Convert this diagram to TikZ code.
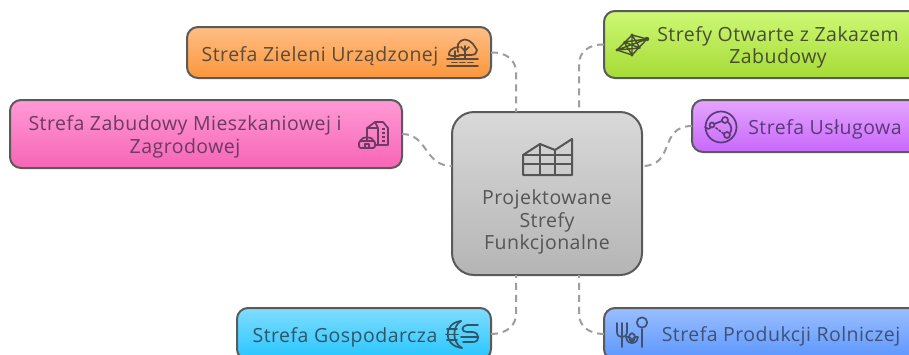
\documentclass[tikz,border=0pt]{standalone}
\usepackage{fontspec}
\setmainfont[LetterSpace=2.4]{Open Sans}
\tikzset{
  zonebox/.style={draw=boxedge,line width=2pt,rounded corners=11pt,inner sep=0pt,outer sep=0pt},
  zonetext/.style={align=center,inner sep=0pt,font=\fontsize{19.5}{22.5}\selectfont},
  link/.style={draw=linkgray,line width=2pt,dash pattern=on 7pt off 5pt},
  icon/.style={line width=1.7pt,line cap=round,line join=round}
}
\definecolor{boxedge}{HTML}{5A5A5A}
\definecolor{linkgray}{HTML}{9E9E9E}
\definecolor{torange}{HTML}{5E4A38}
\definecolor{tpink}{HTML}{6C3A62}
\definecolor{tgreen}{HTML}{474F33}
\definecolor{tpurple}{HTML}{5B3A78}
\definecolor{tcyan}{HTML}{2F5666}
\definecolor{tblue}{HTML}{3F5270}
\definecolor{tgray}{HTML}{555555}
\begin{document}
\begin{tikzpicture}[x=1pt,y=-1pt]
\useasboundingbox (0,0) rectangle (909,354);
\clip (0,0) rectangle (909,354);
\fill[white] (0,0) rectangle (909,354);
% boxes
\node[zonebox,minimum width=190pt,minimum height=163pt,rounded corners=22pt,top color=black!15,bottom color=black!29] (central) at (547,193.5) {};
\node[zonebox,minimum width=304pt,minimum height=51pt,top color={rgb,255:red,255;green,190;blue,133},bottom color={rgb,255:red,251;green,150;blue,60}] (orange) at (339,52.5) {};
\node[zonebox,minimum width=392pt,minimum height=68pt,top color={rgb,255:red,255;green,154;blue,213},bottom color={rgb,255:red,246;green,101;blue,181}] (pink) at (206,134) {};
\node[zonebox,minimum width=330pt,minimum height=67pt,top color={rgb,255:red,205;green,248;blue,117},bottom color={rgb,255:red,166;green,219;blue,53}] (green) at (769,44.5) {};
\node[zonebox,minimum width=240pt,minimum height=52pt,top color={rgb,255:red,229;green,165;blue,255},bottom color={rgb,255:red,199;green,104;blue,250}] (purple) at (812,126) {};
\node[zonebox,minimum width=254pt,minimum height=52pt,top color={rgb,255:red,128;green,221;blue,255},bottom color={rgb,255:red,37;green,197;blue,255}] (cyan) at (364,334) {};
\node[zonebox,minimum width=330pt,minimum height=52pt,top color={rgb,255:red,154;green,190;blue,255},bottom color={rgb,255:red,91;green,149;blue,255}] (blue) at (769,334) {};
% connector ends on the central box
\coordinate (cNa) at (516,112);
\coordinate (cNb) at (579,112);
\coordinate (cW) at (452,166);
\coordinate (cE) at (642,166);
\coordinate (cSa) at (516,275);
\coordinate (cSb) at (579,275);
% connectors
\draw[link] (orange.east) .. controls (506,52) and (516,60) .. (516,72) -- (cNa);
\draw[link] (green.west) .. controls (589,44) and (579,52) .. (579,64) -- (cNb);
\draw[link] (pink.east) .. controls (428,134) and (424,166) .. (cW);
\draw[link] (purple.west) .. controls (658,126) and (676,166) .. (cE);
\draw[link] (cyan.east) .. controls (506,334) and (516,326) .. (516,314) -- (cSa);
\draw[link] (blue.west) .. controls (589,334) and (579,326) .. (579,314) -- (cSb);
% texts
\node[zonetext,text=tgray] (tcentral) at (547,222) {Projektowane\\Strefy\\Funkcjonalne};
\node[zonetext,text=torange] (torangeL) at (320,56) {Strefa Zieleni Urządzonej};
\node[zonetext,text=tpink] (tpinkL) at (185,137) {Strefa Zabudowy Mieszkaniowej i\\Zagrodowej};
\node[zonetext,text=tgreen] (tgreenL) at (778,47.5) {Strefy Otwarte z Zakazem\\Zabudowy};
\node[zonetext,text=tpurple] (tpurpleL) at (825,129) {Strefa Usługowa};
\node[zonetext,text=tcyan] (tcyanL) at (345,337) {Strefa Gospodarcza};
\node[zonetext,text=tblue] (tblueL) at (781,336) {Strefa Produkcji Rolniczej};
% central icon
\begin{scope}[icon,draw=tgray,line width=2pt]
\draw (523,155) -- (540,144) -- (555,150) -- (572,139) -- (572,175) -- (523,175) -- cycle;
\draw (523,164) -- (572,164) (523,155) -- (572,155);
\draw (540,144) -- (540,175) (555,150) -- (555,175);
\end{scope}
% orange icon
\begin{scope}[icon,draw=torange]
\draw (447,59) -- (478,59) (447,66) -- (478,66);
\draw[dash pattern=on 5pt off 3pt] (452,62.5) -- (475,62.5);
\draw (465,59) -- (465,46) (461,47) -- (465,51) -- (469,47);
\draw (458,52) .. controls (457,46) and (457,41) .. (465,39.5) .. controls (473,41) and (474,46) .. (477,50) .. controls (477,53) and (475,55) .. (471,55) -- (459,55);
\draw (455,59) -- (455,51);
\draw (459,47) .. controls (452,47) and (448,52) .. (449,55) .. controls (450,56) and (452,56) .. (459,56);
\end{scope}
% pink icon
\begin{scope}[icon,draw=tpink]
\draw (367,140) -- (367,128) -- (375,122) -- (383,122) -- (388,128) -- (388,145) -- (375,145);
\draw (375,122) -- (378,128) -- (378,145) (367,128) -- (378,128);
\foreach \dy in {128,132,136,140} {\fill[tpink] (382,\dy) rectangle (385,\dy+2);}
\draw[rounded corners=2pt] (359,148) rectangle (375,141);
\draw (360,141) .. controls (362,136) and (372,136) .. (374,141);
\draw (365,148) -- (365,144) -- (369,144) -- (369,148);
\end{scope}
% green icon
\begin{scope}[icon,draw=tgreen,line width=1.4pt]
\draw (617,50) -- (632,35) -- (647,39) -- (632,55) -- cycle;
\draw (617,50) -- (647,39) (632,35) -- (632,55) (624,42) -- (640,48) (624,42) -- (632,55) (640,48) -- (632,35) (617,50) -- (640,48) (624,42) -- (647,39);
\fill[tgreen] (647,39) circle (2.2pt) (632,35) circle (1.6pt) (632,55) circle (1.6pt) (617,50) circle (1.6pt);
\end{scope}
% purple icon
\begin{scope}[icon,draw=tpurple]
\draw (721,127) circle (15.5pt);
\draw (705,127) .. controls (707,129) and (709,130) .. (711,127);
\draw (712,125) circle (2.5pt) (725,120) circle (3pt) (727,135) circle (3pt);
\draw (714,124) -- (722,121);
\draw (728,122) .. controls (732,126) and (732,130) .. (730,133);
\draw[dotted] (716,128) -- (724,134);
\end{scope}
% cyan icon
\begin{scope}[icon,draw=tcyan]
\draw (461,321) .. controls (443,323) and (443,346) .. (462,348);
\draw (461,321) .. controls (452,326) and (452,343) .. (462,348);
\draw (447,329) -- (457,329) (447,340) -- (457,340) (446,334.5) -- (458,334.5);
\draw (478,325) -- (467,325) .. controls (461,326) and (461,332) .. (467,332) -- (473,332) .. controls (480,333) and (480,342) .. (473,342) -- (463,342);
\draw (461,337) -- (478,337);
\end{scope}
% blue icon
\begin{scope}[icon,draw=tblue]
\draw (617,323) -- (617,332) .. controls (617,336) and (620,337) .. (622,337) .. controls (624,337) and (627,336) .. (627,332) -- (627,323);
\draw (622,323) -- (622,347);
\draw (642,329) -- (642,347);
\draw (642,322.5) circle (5.2pt);
\draw (632,333) .. controls (636,335) and (636,338) .. (632,343) .. controls (628,338) and (628,335) .. (632,333);
\draw (626,337) .. controls (629,336) and (632,338) .. (632,343) .. controls (636,343) and (638,340) .. (638,337) .. controls (635,336) and (632,338) .. (632,343) .. controls (628,343) and (626,340) .. (626,337);
\end{scope}
\end{tikzpicture}
\end{document}
